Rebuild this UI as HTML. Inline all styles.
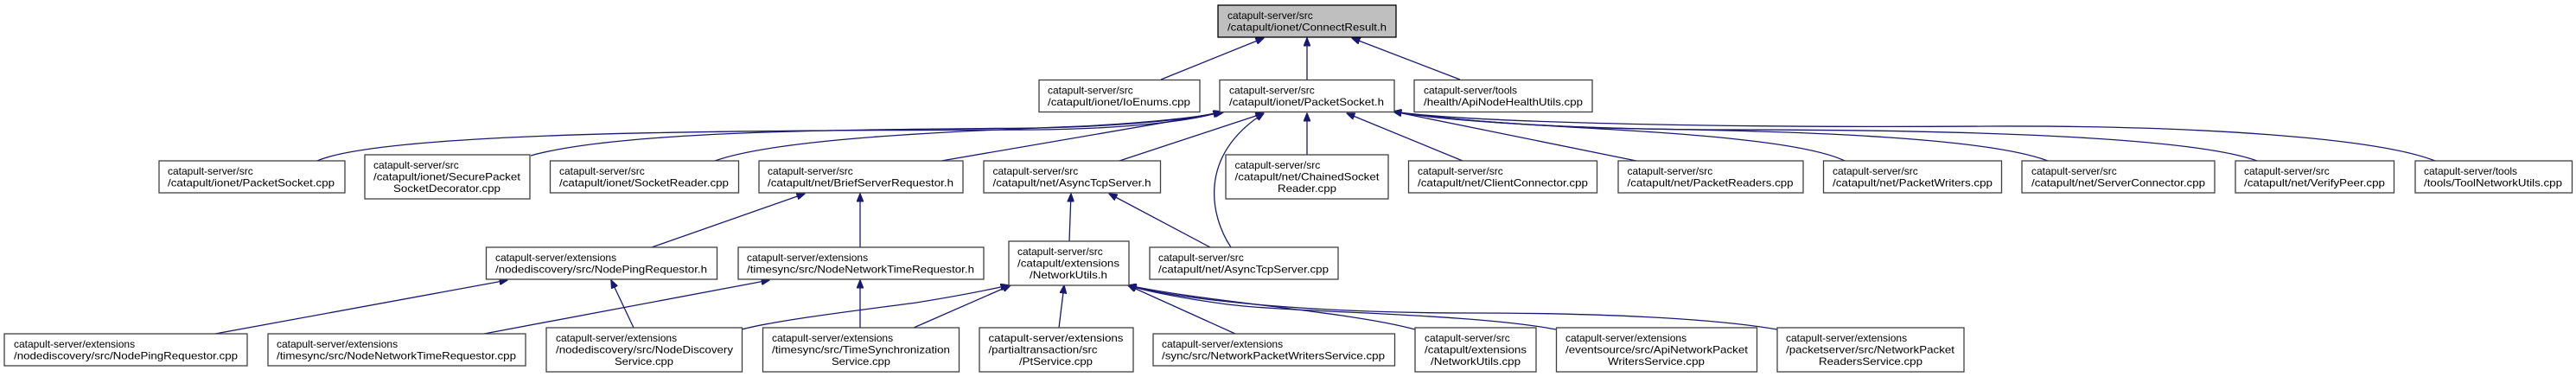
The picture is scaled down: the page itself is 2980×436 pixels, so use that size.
<!DOCTYPE html>
<html><head><meta charset="utf-8"><style>
html,body{margin:0;padding:0;background:#fff;}
svg{display:block;}
text{font-family:"Liberation Sans",Arial,sans-serif;font-size:12px;fill:#000;}
.b{fill:#fff;stroke:#404040;stroke-width:1.3;}
.e{fill:none;stroke:#191970;stroke-width:1.3;}
</style></head><body>
<svg width="2980" height="436" viewBox="0 0 2980 436" xmlns="http://www.w3.org/2000/svg">
<defs><marker id="a" markerWidth="10" markerHeight="8" refX="9.5" refY="4" orient="auto" markerUnits="userSpaceOnUse"><path d="M0,0 L10,4 L0,8 z" fill="#191970" stroke="#191970"/></marker></defs>

<!-- edges -->
<g class="e" marker-end="url(#a)">
<path d="M1343,92 L1462,44"/>
<path d="M1512,92 L1512,44"/>
<path d="M1689,92 L1564,44"/>
<path d="M367,186 C450,150 900,151 1200,150 C1300,149 1380,140 1413,129"/>
<path d="M614,180 C720,150 1000,150 1200,148 C1300,146 1380,138 1413,129"/>
<path d="M827,186 C900,160 1100,152 1250,146 C1330,142 1390,135 1413,130"/>
<path d="M1089,186 L1415,130"/>
<path d="M1295,186 L1462,131"/>
<path d="M1424,286 C1400,250 1385,180 1462,131"/>
<path d="M1512,179 L1512,131"/>
<path d="M1692,186 L1558,131"/>
<path d="M1893,186 L1612,129"/>
<path d="M2134,186 C2080,160 1900,152 1800,146 C1700,140 1640,134 1612,129"/>
<path d="M2369,186 C2300,160 2100,152 1900,149 C1750,146 1660,136 1612,129"/>
<path d="M2611,186 C2540,160 2300,150 2000,150 C1800,150 1660,138 1612,129"/>
<path d="M2817,186 C2750,160 2550,145 2300,146 C2000,148 1700,142 1612,129"/>
<path d="M754,286 L931,224"/>
<path d="M995,286 L995,224"/>
<path d="M1237,279 L1239,224"/>
<path d="M1400,286 L1283,224"/>
<path d="M249,386 L587,324"/>
<path d="M733,379 L707,324"/>
<path d="M560,386 L890,324"/>
<path d="M995,379 L995,324"/>
<path d="M858,381 C900,370 1000,358 1060,350 C1110,342 1140,336 1167,330"/>
<path d="M1057,379 L1169,330"/>
<path d="M1225,379 L1231,330"/>
<path d="M1429,386 L1305,330"/>
<path d="M1637,381 C1560,360 1400,350 1305,330"/>
<path d="M1800,381 C1700,362 1500,362 1420,352 C1360,344 1320,335 1305,330"/>
<path d="M2056,381 C1980,368 1850,362 1700,362 C1500,362 1360,345 1305,330"/>
</g>

<!-- nodes -->
<rect x="1409" y="6" width="206" height="37" fill="#bfbfbf" stroke="#000" stroke-width="1.3"/>
<text x="1420" y="22">catapult-server/src</text><text x="1420" y="35.5" textLength="184" lengthAdjust="spacingAndGlyphs">/catapult/ionet/ConnectResult.h</text>

<rect class="b" x="1202" y="92.5" width="186" height="37"/>
<text x="1212" y="108.5">catapult-server/src</text><text x="1212" y="122" textLength="165" lengthAdjust="spacingAndGlyphs">/catapult/ionet/IoEnums.cpp</text>

<rect class="b" x="1411" y="92.5" width="202" height="37"/>
<text x="1422" y="108.5">catapult-server/src</text><text x="1422" y="122" textLength="179" lengthAdjust="spacingAndGlyphs">/catapult/ionet/PacketSocket.h</text>

<rect class="b" x="1636" y="92.5" width="206" height="37"/>
<text x="1647" y="108.5">catapult-server/tools</text><text x="1647" y="122" textLength="184" lengthAdjust="spacingAndGlyphs">/health/ApiNodeHealthUtils.cpp</text>

<!-- row 3 -->
<rect class="b" x="184" y="186" width="215" height="37"/>
<text x="194" y="202">catapult-server/src</text><text x="194" y="215.5" textLength="193" lengthAdjust="spacingAndGlyphs">/catapult/ionet/PacketSocket.cpp</text>

<rect class="b" x="422" y="179" width="191" height="51"/>
<text x="432" y="195">catapult-server/src</text><text x="432" y="208.5" textLength="170" lengthAdjust="spacingAndGlyphs">/catapult/ionet/SecurePacket</text><text x="517" y="222" text-anchor="middle" textLength="124" lengthAdjust="spacingAndGlyphs">SocketDecorator.cpp</text>

<rect class="b" x="636.5" y="186" width="218" height="37"/>
<text x="647" y="202">catapult-server/src</text><text x="647" y="215.5" textLength="196" lengthAdjust="spacingAndGlyphs">/catapult/ionet/SocketReader.cpp</text>

<rect class="b" x="878" y="186" width="236" height="37"/>
<text x="888" y="202">catapult-server/src</text><text x="888" y="215.5" textLength="215" lengthAdjust="spacingAndGlyphs">/catapult/net/BriefServerRequestor.h</text>

<rect class="b" x="1138" y="186" width="204.5" height="37"/>
<text x="1148.5" y="202">catapult-server/src</text><text x="1148.5" y="215.5" textLength="183" lengthAdjust="spacingAndGlyphs">/catapult/net/AsyncTcpServer.h</text>

<rect class="b" x="1418" y="179" width="188" height="51"/>
<text x="1428.5" y="195">catapult-server/src</text><text x="1428.5" y="208.5" textLength="167" lengthAdjust="spacingAndGlyphs">/catapult/net/ChainedSocket</text><text x="1512" y="222" text-anchor="middle" textLength="68" lengthAdjust="spacingAndGlyphs">Reader.cpp</text>

<rect class="b" x="1629.5" y="186" width="218" height="37"/>
<text x="1640" y="202">catapult-server/src</text><text x="1640" y="215.5" textLength="197" lengthAdjust="spacingAndGlyphs">/catapult/net/ClientConnector.cpp</text>

<rect class="b" x="1872" y="186" width="214" height="37"/>
<text x="1882.5" y="202">catapult-server/src</text><text x="1882.5" y="215.5" textLength="192" lengthAdjust="spacingAndGlyphs">/catapult/net/PacketReaders.cpp</text>

<rect class="b" x="2109.5" y="186" width="206" height="37"/>
<text x="2120" y="202">catapult-server/src</text><text x="2120" y="215.5" textLength="185" lengthAdjust="spacingAndGlyphs">/catapult/net/PacketWriters.cpp</text>

<rect class="b" x="2339" y="186" width="223" height="37"/>
<text x="2350" y="202">catapult-server/src</text><text x="2350" y="215.5" textLength="201" lengthAdjust="spacingAndGlyphs">/catapult/net/ServerConnector.cpp</text>

<rect class="b" x="2586" y="186" width="183.5" height="37"/>
<text x="2596" y="202">catapult-server/src</text><text x="2596" y="215.5" textLength="163" lengthAdjust="spacingAndGlyphs">/catapult/net/VerifyPeer.cpp</text>

<rect class="b" x="2794" y="186" width="181.5" height="37"/>
<text x="2804" y="202">catapult-server/tools</text><text x="2804" y="215.5" textLength="160" lengthAdjust="spacingAndGlyphs">/tools/ToolNetworkUtils.cpp</text>

<!-- row 4 -->
<rect class="b" x="562.5" y="286" width="267" height="37"/>
<text x="573" y="302">catapult-server/extensions</text><text x="573" y="315.5" textLength="245" lengthAdjust="spacingAndGlyphs">/nodediscovery/src/NodePingRequestor.h</text>

<rect class="b" x="854" y="286" width="284" height="37"/>
<text x="864" y="302">catapult-server/extensions</text><text x="864" y="315.5" textLength="263" lengthAdjust="spacingAndGlyphs">/timesync/src/NodeNetworkTimeRequestor.h</text>

<rect class="b" x="1167" y="279" width="139" height="51"/>
<text x="1177" y="295">catapult-server/src</text><text x="1177" y="308.5" textLength="118" lengthAdjust="spacingAndGlyphs">/catapult/extensions</text><text x="1236" y="322" text-anchor="middle" textLength="90" lengthAdjust="spacingAndGlyphs">/NetworkUtils.h</text>

<rect class="b" x="1330" y="286" width="218" height="37"/>
<text x="1340" y="302">catapult-server/src</text><text x="1340" y="315.5" textLength="197" lengthAdjust="spacingAndGlyphs">/catapult/net/AsyncTcpServer.cpp</text>

<!-- row 5 -->
<rect class="b" x="5" y="386" width="281" height="37"/>
<text x="16" y="402">catapult-server/extensions</text><text x="16" y="415.5" textLength="259" lengthAdjust="spacingAndGlyphs">/nodediscovery/src/NodePingRequestor.cpp</text>

<rect class="b" x="310" y="386" width="298" height="37"/>
<text x="320" y="402">catapult-server/extensions</text><text x="320" y="415.5" textLength="277" lengthAdjust="spacingAndGlyphs">/timesync/src/NodeNetworkTimeRequestor.cpp</text>

<rect class="b" x="632" y="379" width="226.5" height="51"/>
<text x="643" y="395">catapult-server/extensions</text><text x="643" y="408.5" textLength="205" lengthAdjust="spacingAndGlyphs">/nodediscovery/src/NodeDiscovery</text><text x="745" y="422" text-anchor="middle" textLength="68" lengthAdjust="spacingAndGlyphs">Service.cpp</text>

<rect class="b" x="882.5" y="379" width="227" height="51"/>
<text x="893" y="395">catapult-server/extensions</text><text x="893" y="408.5" textLength="206" lengthAdjust="spacingAndGlyphs">/timesync/src/TimeSynchronization</text><text x="996" y="422" text-anchor="middle" textLength="68" lengthAdjust="spacingAndGlyphs">Service.cpp</text>

<rect class="b" x="1133" y="379" width="178" height="51"/>
<text x="1143.5" y="395" textLength="156" lengthAdjust="spacingAndGlyphs">catapult-server/extensions</text><text x="1143.5" y="408.5" textLength="126" lengthAdjust="spacingAndGlyphs">/partialtransaction/src</text><text x="1221.5" y="422" text-anchor="middle" textLength="85" lengthAdjust="spacingAndGlyphs">/PtService.cpp</text>

<rect class="b" x="1334" y="386" width="279.5" height="37"/>
<text x="1344" y="402">catapult-server/extensions</text><text x="1344" y="415.5" textLength="258" lengthAdjust="spacingAndGlyphs">/sync/src/NetworkPacketWritersService.cpp</text>

<rect class="b" x="1637" y="379" width="140" height="51"/>
<text x="1648" y="395">catapult-server/src</text><text x="1648" y="408.5" textLength="118" lengthAdjust="spacingAndGlyphs">/catapult/extensions</text><text x="1707" y="422" text-anchor="middle" textLength="104" lengthAdjust="spacingAndGlyphs">/NetworkUtils.cpp</text>

<rect class="b" x="1800.5" y="379" width="232" height="51"/>
<text x="1811" y="395">catapult-server/extensions</text><text x="1811" y="408.5" textLength="211" lengthAdjust="spacingAndGlyphs">/eventsource/src/ApiNetworkPacket</text><text x="1916" y="422" text-anchor="middle" textLength="112" lengthAdjust="spacingAndGlyphs">WritersService.cpp</text>

<rect class="b" x="2056" y="379" width="216" height="51"/>
<text x="2066" y="395">catapult-server/extensions</text><text x="2066" y="408.5" textLength="195" lengthAdjust="spacingAndGlyphs">/packetserver/src/NetworkPacket</text><text x="2164" y="422" text-anchor="middle" textLength="120" lengthAdjust="spacingAndGlyphs">ReadersService.cpp</text>
</svg>
</body></html>
